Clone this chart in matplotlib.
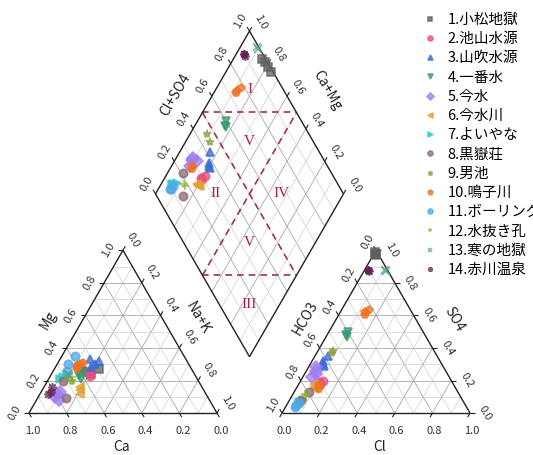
import numpy as np
import matplotlib.pyplot as plt

plt.rcParams['font.family'] = ['Noto Sans CJK JP', 'DejaVu Sans']

# sample names
names = ['1.小松地獄', '2.池山水源', '3.山吹水源', '4.一番水', '5.今水', '6.今水川',
         '7.よいやな', '8.黒嶽荘', '9.男池', '10.鳴子川', '11.ボーリング',
         '12.水抜き孔', '13.寒の地獄', '14.赤川温泉']

# cation fractions (Ca = 1 - Mg - Na+K)
mg = [[0.26, 0.25, 0.24, 0.27], [0.25, 0.23, 0.26], [0.33, 0.30, 0.28, 0.32],
      [0.23, 0.21, 0.25], [0.10, 0.13, 0.08, 0.12], [0.14, 0.16, 0.12],
      [0.22, 0.24, 0.21], [0.09, 0.20], [0.22, 0.20],
      [0.30, 0.28, 0.31, 0.29, 0.27], [0.35, 0.26, 0.30], [0.20, 0.22],
      [0.24, 0.23], [0.12, 0.16, 0.13]]
nak = [[0.15, 0.18, 0.21, 0.24], [0.19, 0.21, 0.20], [0.16, 0.20, 0.19, 0.21],
       [0.15, 0.17, 0.16], [0.09, 0.10, 0.12, 0.09], [0.20, 0.19, 0.21],
       [0.07, 0.08, 0.06], [0.15, 0.08], [0.09, 0.13],
       [0.12, 0.12, 0.13, 0.11, 0.12], [0.07, 0.07, 0.06], [0.13, 0.12],
       [0.09, 0.10], [0.04, 0.04, 0.05]]

# anion fractions (HCO3 = 1 - Cl - SO4)
cl = [[0.01, 0.01, 0.00, 0.01], [0.11, 0.12, 0.10], [0.07, 0.07, 0.06, 0.08],
      [0.10, 0.11, 0.10], [0.05, 0.05, 0.04, 0.06], [0.09, 0.10, 0.08],
      [0.06, 0.07, 0.06], [0.06, 0.08], [0.08, 0.08],
      [0.14, 0.13, 0.15, 0.11, 0.12], [0.05, 0.06, 0.05], [0.06, 0.07],
      [0.12, 0.11], [0.02, 0.03, 0.02]]
so4 = [[0.97, 0.98, 0.99, 0.98], [0.18, 0.20, 0.19], [0.35, 0.30, 0.32, 0.29],
       [0.50, 0.47, 0.48], [0.26, 0.22, 0.28, 0.24], [0.16, 0.15, 0.18],
       [0.07, 0.08, 0.06], [0.08, 0.13], [0.38, 0.37],
       [0.60, 0.62, 0.63, 0.17, 0.15], [0.05, 0.06, 0.04], [0.12, 0.11],
       [0.87, 0.88], [0.88, 0.87, 0.88]]

colors = ['#606060', '#e8507e', '#3a6ad8', '#3a9a70', '#a07ef0', '#e0a030', '#30c8c8',
          '#8a6a78', '#90a040', '#f07020', '#50a8e8', '#90b020', '#50a090', '#602050']
markers = ['s', 'o', '^', 'v', 'D', '<', '>', 'o', '*', 'p', 'o', '+', 'x', (8, 2, 0)]

G = 0.346
S3 = np.sqrt(3) / 2


def cation_xy(m, n):
    m, n = np.asarray(m), np.asarray(n)
    return n + m / 2, m * S3


def anion_xy(s, c):
    s, c = np.asarray(s), np.asarray(c)
    return 1 + G + c + s / 2, s * S3


def diamond_xy(n, a):
    n, a = np.asarray(n), np.asarray(a)
    return 0.5 * (1 + G + a + n), S3 * (1 + G + a - n)


fig = plt.figure(figsize=(5.33, 4.55), dpi=100)
ax = fig.add_axes([0, 0, 1, 1])
ax.set_xlim(-0.154, 2.681)
ax.set_ylim(-0.223, 2.197)
ax.axis('off')


def seg(p, q, **kw):
    ax.plot([p[0], q[0]], [p[1], q[1]], solid_capstyle='butt', **kw)


def grid_kw(v):
    if round(v * 10) % 2 == 0:
        return dict(color='#a8a8a8', lw=0.6, zorder=1)
    return dict(color='#d0d0d0', lw=0.5, zorder=1)


# grid lines
for v in np.arange(0.1, 0.95, 0.1):
    kw = grid_kw(v)
    seg(cation_xy(v, 0), cation_xy(v, 1 - v), **kw)
    seg(cation_xy(0, v), cation_xy(1 - v, v), **kw)
    seg(cation_xy(0, 1 - v), cation_xy(1 - v, 0), **kw)
    seg(anion_xy(v, 0), anion_xy(v, 1 - v), **kw)
    seg(anion_xy(0, v), anion_xy(1 - v, v), **kw)
    seg(anion_xy(0, 1 - v), anion_xy(1 - v, 0), **kw)
    seg(diamond_xy(v, 0), diamond_xy(v, 1), **kw)
    seg(diamond_xy(0, v), diamond_xy(1, v), **kw)

# outlines
edge = dict(color='#222222', lw=1.0, zorder=3)
seg(cation_xy(0, 0), cation_xy(0, 1), **edge)
seg(cation_xy(0, 1), cation_xy(1, 0), **edge)
seg(cation_xy(1, 0), cation_xy(0, 0), **edge)
seg(anion_xy(0, 0), anion_xy(0, 1), **edge)
seg(anion_xy(0, 1), anion_xy(1, 0), **edge)
seg(anion_xy(1, 0), anion_xy(0, 0), **edge)
seg(diamond_xy(0, 0), diamond_xy(0, 1), **edge)
seg(diamond_xy(0, 1), diamond_xy(1, 1), **edge)
seg(diamond_xy(1, 1), diamond_xy(1, 0), **edge)
seg(diamond_xy(1, 0), diamond_xy(0, 0), **edge)

# ticks and tick labels
tl = 0.025
tick = dict(color='#222222', lw=0.8, zorder=3)
lab = dict(fontsize=8, color='#333333', ha='center', va='center')
for v in np.arange(0, 1.01, 0.2):
    t = '%.1f' % v
    # Mg (left of cation)
    p = cation_xy(v, 0)
    seg(p, (p[0] - tl, p[1]), **tick)
    ax.text(p[0] - 0.077, p[1], t, rotation=60, **lab)
    # Na+K (right of cation)
    p = cation_xy(1 - v, v)
    seg(p, (p[0] + tl * 0.5, p[1] + tl * S3), **tick)
    ax.text(p[0] + 0.055, p[1] + 0.055, t, rotation=-60, **lab)
    # Ca (bottom of cation)
    p = cation_xy(0, 1 - v)
    seg(p, (p[0] + tl * 0.5, p[1] - tl * S3), **tick)
    ax.text(p[0] + 0.02, p[1] - 0.097, t, **lab)
    # HCO3 (left of anion)
    p = anion_xy(1 - v, 0)
    seg(p, (p[0] - tl * 0.5, p[1] + tl * S3), **tick)
    ax.text(p[0] - 0.045, p[1] + 0.045, t, rotation=60, **lab)
    # SO4 (right of anion)
    p = anion_xy(v, 1 - v)
    seg(p, (p[0] + tl, p[1]), **tick)
    ax.text(p[0] + 0.082, p[1], t, rotation=-60, **lab)
    # Cl (bottom of anion)
    p = anion_xy(0, v)
    seg(p, (p[0] - tl * 0.5, p[1] - tl * S3), **tick)
    ax.text(p[0] + 0.01, p[1] - 0.097, t, **lab)
    # Cl+SO4 (upper left of diamond)
    p = diamond_xy(0, v)
    seg(p, (p[0] - tl * 0.5, p[1] + tl * S3), **tick)
    ax.text(p[0] - 0.048, p[1] + 0.053, t, rotation=60, **lab)
    # Ca+Mg (upper right of diamond)
    p = diamond_xy(1 - v, 1)
    seg(p, (p[0] + tl * 0.5, p[1] + tl * S3), **tick)
    ax.text(p[0] + 0.059, p[1] + 0.048, t, rotation=-60, **lab)

# axis titles
ttl = dict(fontsize=10, color='#222222', ha='center', va='center')
ax.text(0.495, -0.18, 'Ca', **ttl)
ax.text(0.101, 0.495, 'Mg', rotation=60, **ttl)
ax.text(0.899, 0.505, 'Na+K', rotation=-60, **ttl)
ax.text(1 + G + 0.52, -0.18, 'Cl', **ttl)
ax.text(1.468, 0.505, 'HCO3', rotation=60, **ttl)
ax.text(2.26, 0.50, 'SO4', rotation=-60, **ttl)
ax.text(0.777, 1.691, 'Cl+SO4', rotation=60, **ttl)
ax.text(1.585, 1.718, 'Ca+Mg', rotation=-60, **ttl)

# water type zones
dash = dict(color='#a03050', lw=1.2, ls=(0, (4, 3)), zorder=2)
seg(diamond_xy(0, 0.5), diamond_xy(0.5, 1), **dash)
seg(diamond_xy(0.5, 0), diamond_xy(1, 0.5), **dash)
seg(diamond_xy(0, 0.5), diamond_xy(1, 0.5), **dash)
seg(diamond_xy(0.5, 0), diamond_xy(0.5, 1), **dash)

zones = [('I', 0.18, 0.82), ('V', 0.34, 0.66), ('II', 0.32, 0.32),
         ('IV', 0.67, 0.67), ('V', 0.65, 0.35), ('III', 0.84, 0.16)]
for t, n, a in zones:
    x, y = diamond_xy(n, a)
    ax.text(x, y, t, fontsize=11, color='#b01c3c', family='Liberation Serif',
            ha='center', va='center')

# samples
handles = []
for i in range(len(names)):
    m, n = np.array(mg[i]), np.array(nak[i])
    c, s = np.array(cl[i]), np.array(so4[i])
    kw = dict(ls='none', marker=markers[i], color=colors[i], ms=6, mew=1.2,
              alpha=0.75, zorder=4)
    x, y = cation_xy(m, n)
    h, = ax.plot(x, y, **kw)
    x, y = anion_xy(s, c)
    ax.plot(x, y, **kw)
    x, y = diamond_xy(n, c + s)
    ax.plot(x, y, **kw)
    handles.append(h)

fig.legend(handles, names, loc='upper left', bbox_to_anchor=(0.79, 0.972),
           frameon=False, fontsize=10.5, markerscale=0.6, handlelength=1.2,
           handletextpad=0.6, labelspacing=0.36, borderpad=0, borderaxespad=0)

fig.savefig('out.png', dpi=100)
